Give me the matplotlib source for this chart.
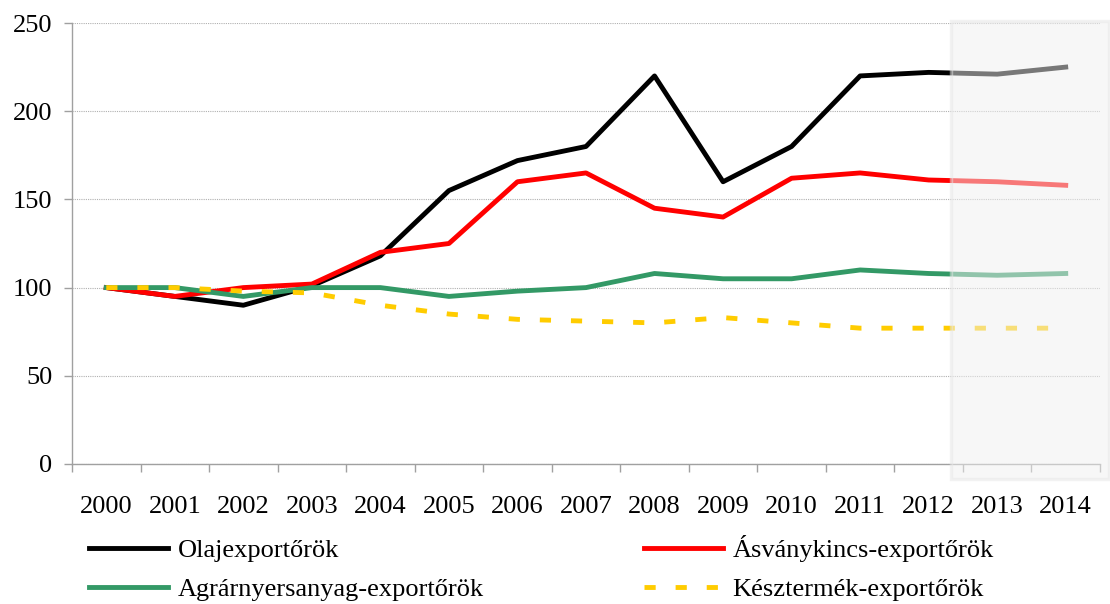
import matplotlib.pyplot as plt
from matplotlib.patches import Rectangle

plt.rcParams['font.family'] = ['Liberation Serif', 'DejaVu Serif']

years = ['2000', '2001', '2002', '2003', '2004', '2005', '2006', '2007',
         '2008', '2009', '2010', '2011', '2012', '2013', '2014']
olaj = [100, 95, 90, 101, 118, 155, 172, 180, 220, 160, 180, 220, 222, 221, 225]
asvany = [100, 95, 100, 102, 120, 125, 160, 165, 145, 140, 162, 165, 161, 160, 158]
agrar = [100, 100, 95, 100, 100, 95, 98, 100, 108, 105, 105, 110, 108, 107, 108]
kesz = [100, 100, 98, 97, 90, 85, 82, 81, 80, 83, 80, 77, 77, 77, 77]

labels = ['Olajexportőrök', 'Ásványkincs-exportőrök',
          'Agrárnyersanyag-exportőrök', 'Késztermék-exportőrök']

FS = 19
fig = plt.figure(figsize=(11.1, 6.04), dpi=100)
ax = fig.add_axes([72 / 1110, 140 / 604, 1028 / 1110, 441 / 604])

x = list(range(len(years)))
lw = 3.5
l1, = ax.plot(x, olaj, color='black', lw=lw, zorder=3)
l2, = ax.plot(x, asvany, color='#ff0000', lw=lw, zorder=3)
l3, = ax.plot(x, agrar, color='#339966', lw=lw, zorder=3)
l4, = ax.plot(x, kesz, color='#ffcc00', lw=lw, dashes=(2.3, 4.1),
              dash_capstyle='butt', zorder=3)

ax.set_xlim(-0.5, len(years) - 0.5)
ax.set_ylim(0, 250)
ax.set_yticks([0, 50, 100, 150, 200, 250])
ax.yaxis.grid(True, linestyle=(0, (1, 1)), color='#b0b0b0', lw=0.8)
ax.set_axisbelow(True)

ax.set_xticks([i - 0.5 for i in range(len(years) + 1)])
ax.set_xticklabels([])
ax.set_xticks(x, minor=True)
ax.set_xticklabels(years, minor=True)
ax.tick_params(axis='x', which='major', length=6, color='#a0a0a0', width=1)
ax.tick_params(axis='x', which='minor', length=0, pad=23, labelsize=FS)
ax.tick_params(axis='y', length=6, color='#a0a0a0', width=1, pad=8, labelsize=FS)

for s in ['top', 'right']:
    ax.spines[s].set_visible(False)
for s in ['left', 'bottom']:
    ax.spines[s].set_color('#a0a0a0')
    ax.spines[s].set_linewidth(1)

# shaded forecast area
shade = Rectangle((951 / 1110, 125 / 604), 158 / 1110, 458 / 604,
                  transform=fig.transFigure, facecolor='#f0f0f0',
                  edgecolor='#e6e6e6', lw=2.5, alpha=0.5, zorder=5)
fig.add_artist(shade)

# one legend, two columns; column gap fitted so 2nd column starts at x=644 px
leg_kw = dict(frameon=False, fontsize=FS, handlelength=3.0, handletextpad=0.35,
              labelspacing=0.6, borderpad=0, borderaxespad=0, loc='upper left',
              ncol=2, columnspacing=5)
handles = [l1, l3, l2, l4]
names = [labels[0], labels[2], labels[1], labels[3]]
anchor = (89 / 1110, 1 - 535 / 604)
leg = fig.legend(handles, names, bbox_to_anchor=anchor, **leg_kw)
fig.canvas.draw()
col1_right = max(t.get_window_extent().x1 for t in leg.get_texts()[:2])
fs_px = FS * 100 / 72
leg.remove()
leg_kw['columnspacing'] = (644 - col1_right) / fs_px
leg = fig.legend(handles, names, bbox_to_anchor=anchor, **leg_kw)

fig.savefig('out.png', dpi=100)
